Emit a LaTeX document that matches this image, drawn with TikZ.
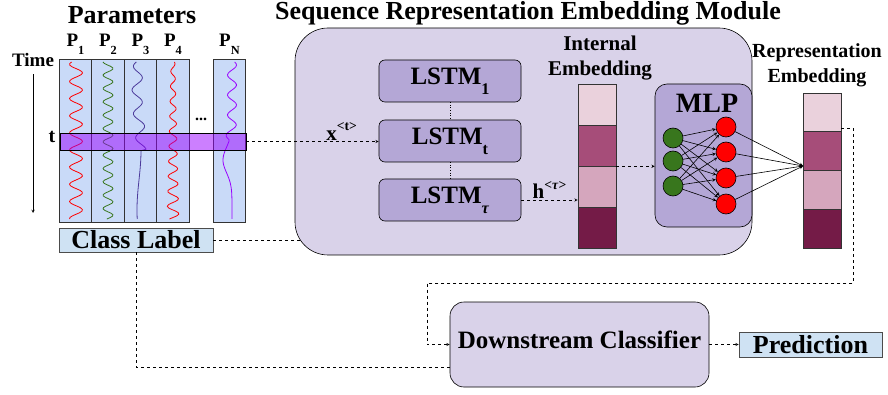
\documentclass[tikz,border=0pt]{standalone}
\usepackage{graphicx}
\usepackage{fontspec}
\setmainfont{Liberation Serif}
\definecolor{colblue}{HTML}{C9DAF8}
\definecolor{lblue}{HTML}{CFE2F3}
\definecolor{modfill}{HTML}{D9D2E9}
\definecolor{lstmfill}{HTML}{B4A7D6}
\definecolor{bandfill}{HTML}{9900FF}
\definecolor{embA}{HTML}{EAD1DC}
\definecolor{embB}{HTML}{A64D79}
\definecolor{embC}{HTML}{D5A6BD}
\definecolor{embD}{HTML}{741B47}
\definecolor{nodegreen}{HTML}{38761D}
\definecolor{curveblue}{HTML}{4B3A9B}
\newcommand{\lowidx}[1]{\raisebox{-0.4em}{\scalebox{0.65}{#1}}}
\newcommand{\highidx}[1]{\raisebox{0.45em}{\scalebox{0.65}{#1}}}

\begin{document}
\begin{tikzpicture}[x=1pt, y=-1pt, line width=0.6pt]
        \tikzstyle{heading} = [font=\fontsize{26}{28}\selectfont\bfseries, anchor=base, inner sep=0]
        \tikzstyle{plabel} = [font=\fontsize{19}{21}\selectfont\bfseries, anchor=base, inner sep=0]
        \tikzstyle{embtitle} = [font=\fontsize{21}{25}\selectfont\bfseries, align=center, inner sep=0]
        \tikzstyle{param} = [rectangle, draw=black!80, fill=colblue, minimum width=32.5, minimum height=163, inner sep=0]
        \tikzstyle{band} = [rectangle, draw, fill=bandfill, fill opacity=0.5, minimum width=186, minimum height=17]
        \tikzstyle{module} = [rectangle, draw, fill=modfill, rounded corners=33, minimum width=457, minimum height=227]
        \tikzstyle{lstm} = [rectangle, draw, fill=lstmfill, rounded corners=6, minimum width=142, minimum height=42, font=\fontsize{25}{27}\selectfont\bfseries]
        \tikzstyle{cell} = [rectangle, draw=black!80, minimum width=38, minimum height=41, inner sep=0]
        \tikzstyle{neuron} = [circle, draw, minimum size=20, inner sep=0]
        \tikzstyle{infobox} = [rectangle, draw=black!70, fill=lblue, inner sep=0]
        \tikzstyle{wave} = [line width=0.8pt]
        \tikzstyle{arrow} = [->, >=stealth]
        \tikzstyle{link} = [dashed, line width=0.5pt]

        \useasboundingbox (0,0) rectangle (888,395);

        % input parameters
        \node [heading] (partitle) at (132,24) {Parameters};
        \node [plabel] (time) at (33,67) {Time};
        \coordinate (tend) at (33,213);
        \draw [arrow, line width=0.5pt] (time.south) ++(0,7) -- (tend);
        \foreach \i/\cx in {1/75.5, 2/108, 3/140.5, 4/173, N/229.5} {
            \node [param] (p\i) at (\cx,140.5) {};
            \node [plabel] (pl\i) at (\cx,47) {P\lowidx{\i}};
        }
        \node [font=\fontsize{16}{16}\selectfont\bfseries] (dots) at (201,119) {...};
        \draw [wave, red] plot[smooth, domain=62:219, samples=100] ({76+6.5*sin(21*\x)}, \x);
        \draw [wave, nodegreen] plot[smooth, domain=62:219, samples=110] ({108+5*sin(27*\x+40)}, \x);
        \draw [wave, curveblue] plot[smooth, domain=62:219, samples=100] ({139+5*sin(15*\x)*(\x<150)+2*sin(3*\x)}, \x);
        \draw [wave, red] plot[smooth, domain=62:219, samples=100] ({173+(2+4*(\x-62)/157)*sin(24*\x)}, \x);
        \draw [wave, bandfill] plot[smooth, domain=62:219, samples=100] ({232+4.5*sin(18*\x)*(\x<140)-9*exp(-((\x-160)/18)*((\x-160)/18))}, \x);
        \node [band] (band) at (153,141.5) {};
        \node [plabel, font=\fontsize{20}{22}\selectfont\bfseries] (tlabel) at (52,143) {t};
        \node [infobox, minimum width=154, minimum height=24, font=\fontsize{26}{28}\selectfont\bfseries] (clabel) at (136,240) {Class Label};

        % embedding module
        \node [module] (sem) at (523.5,141.5) {};
        \node [heading] (semtitle) at (528,20) {Sequence Representation Embedding Module};
        \node [lstm] (lstm1) at (450,81) {LSTM\lowidx{1}};
        \node [lstm] (lstmt) at (450,141) {LSTM\lowidx{t}};
        \node [lstm] (lstmtau) at (450,200) {LSTM\lowidx{\textit{τ}}};
        \draw [dotted] (lstm1.south) -- (lstmt.north);
        \draw [dotted] (lstmt.south) -- (lstmtau.north);

        \node [embtitle] (ietitle) at (600,58) {Internal\\Embedding};
        \node [embtitle, font=\fontsize{20}{25}\selectfont\bfseries] (retitle) at (817,65) {Representation\\Embedding};
        \foreach \c [count=\i] in {embA,embB,embC,embD} {
            \node [cell, fill=\c] (ie\i) at (597,{63.5+41*\i}) {};
            \node [cell, fill=\c, minimum height=38.75] (re\i) at (822,{73.6+38.75*\i}) {};
        }

        \node [rectangle, draw, fill=lstmfill, rounded corners=12, minimum width=97, minimum height=143] (mlp) at (703.5,155.5) {};
        \node [heading, font=\fontsize{28}{30}\selectfont\bfseries] (mlptitle) at (707,113) {MLP};
        \foreach \i/\yy in {1/138, 2/161, 3/186}
            \node [neuron, fill=nodegreen] (g\i) at (673,\yy) {};
        \foreach \j/\yy in {1/127, 2/152, 3/178, 4/204}
            \node [neuron, fill=red] (r\j) at (726,\yy) {};
        \foreach \i in {1,2,3}
            \foreach \j in {1,...,4}
                \draw [arrow] (g\i) -- (r\j);
        \coordinate (conv) at (803,166);
        \foreach \j in {1,...,4}
            \draw [arrow] (r\j) -- (conv);

        % classifier
        \node [rectangle, draw, fill=modfill, rounded corners=14, minimum width=259, minimum height=85, text depth=9pt, font=\fontsize{25}{27}\selectfont\bfseries] (dc) at (579.5,344.5) {Downstream Classifier};
        \node [infobox, minimum width=143, minimum height=25, font=\fontsize{26}{28}\selectfont\bfseries] (pred) at (810.5,344.5) {Prediction};
        \coordinate (turn) at (427,283);

        \draw [link, arrow] (band.east) -- (band.east -| lstmt.west) node[pos=0.72, above, inner sep=1, font=\fontsize{21}{23}\selectfont\bfseries] {x\highidx{<t>}};
        \draw [link, arrow] (lstmtau.east) -- (lstmtau.east -| ie3.west) node[midway, above, inner sep=1, font=\fontsize{21}{23}\selectfont\bfseries] {h\highidx{<\textit{τ}>}};
        \draw [link, arrow] (ie2.south east) -- (ie2.south east -| mlp.west);
        \draw [link] (clabel.east) -- ([xshift=5pt]sem.west |- clabel.east);
        \draw [link] (clabel.south) |- ([yshift=-22.5pt]dc.west);
        \draw [link, arrow] ([yshift=4pt]re1.south east) -- ++(12,0) |- (turn) |- (dc.west);
        \draw [link, arrow] (dc.east) -- (pred.west);
\end{tikzpicture}
\end{document}
